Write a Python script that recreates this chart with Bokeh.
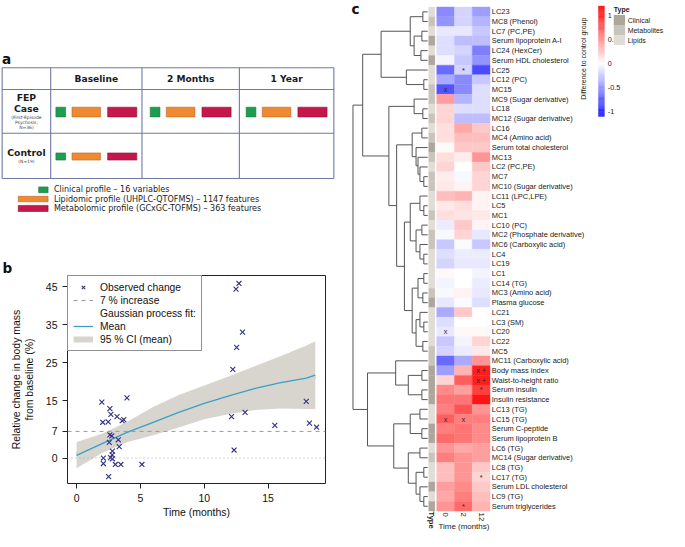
import math
from bokeh.plotting import figure
from bokeh.layouts import row, column
from bokeh.models import Range1d, Legend, LegendItem, ColumnDataSource, Span
from bokeh.transform import linear_cmap, factor_cmap
from bokeh.core.properties import value
from bokeh.embed import file_html
from bokeh.resources import INLINE

S = 0.97
def fs(v):
    return f"{v * S:.2f}px"

# ======================= DATA =======================
# ---- panel a
timepoints = ["Baseline", "2 Months", "1 Year"]
group_titles = [["FEP", "Case"], ["Control"]]
group_notes = [["(First-Episode", "Psychosis;", "N=36)"], ["(N=19)"]]
measured = [[1, 1, 1], [1, 0, 0]]
profile_names = ["Clinical profile", "Lipidomic profile (UHPLC-QTOFMS)", "Metabolomic profile (GCxGC-TOFMS)"]
profile_counts = [16, 1147, 363]
profile_units = ["variables", "features", "features"]
profile_colors = ["#1c9e4e", "#f08a32", "#c6174c"]
profile_edges = ["#15773b", "#b9661e", "#8f0f36"]

# ---- panel b
obs_time = [1.98, 2.05, 2.48, 2.61, 2.69, 3.17, 3.95, 3.57, 3.70, 2.61, 2.76, 2.56, 3.27, 3.34,
            2.81, 2.79, 2.66, 2.81, 2.10, 2.10, 3.04, 3.47, 2.51, 5.12, 12.72, 12.49, 13.0, 12.54,
            12.24, 12.14, 13.2, 12.34, 15.53, 17.99, 18.24, 18.80]
obs_change = [14.7, 9.4, 9.5, 13.0, 11.5, 10.9, 15.8, 9.8, 10.1, 6.1, 5.8, 4.1, 4.8, 3.0,
              1.8, 0.85, 0.1, -0.2, 0.0, -1.45, -1.7, -1.7, -4.9, -1.7, 45.9, 44.4, 33.1, 29.1,
              23.3, 10.9, 12.0, 2.1, 8.6, 14.9, 9.2, 8.1]
fit_time = [0, 2, 4, 6, 8, 10, 12, 14, 16, 18, 18.7]
fit_mean = [0.7, 3.8, 6.8, 9.4, 12.0, 14.4, 16.4, 18.3, 19.8, 21.0, 21.8]
fit_upper = [4.2, 6.4, 9.6, 13.4, 16.6, 19.1, 21.6, 24.2, 26.8, 29.6, 30.7]
fit_lower = [-2.7, 1.3, 4.2, 6.0, 8.0, 10.2, 11.6, 12.6, 13.0, 12.9, 12.9]
threshold = 7
b_xticks = [0, 5, 10, 15]
b_yticks = [0, 7, 15, 25, 35, 45]
b_xlim = (-0.71, 19.5)
b_ylim = (-6.7, 48.0)

# ---- panel c
row_names = ["LC23", "MC8 (Phenol)", "LC7 (PC,PE)", "Serum lipoprotein A-I", "LC24 (HexCer)",
             "Serum HDL cholesterol", "LC25", "LC12 (PC)", "MC15", "MC9 (Sugar derivative)", "LC18",
             "MC12 (Sugar derivative)", "LC16", "MC4 (Amino acid)", "Serum total cholesterol", "MC13",
             "LC2 (PC,PE)", "MC7", "MC10 (Sugar derivative)", "LC11 (LPC,LPE)", "LC5", "MC1",
             "LC10 (PC)", "MC2 (Phosphate derivative)", "MC6 (Carboxylic acid)", "LC4", "LC19", "LC1",
             "LC14 (TG)", "MC3 (Amino acid)", "Plasma glucose", "LC21", "LC3 (SM)", "LC20", "LC22", "MC5",
             "MC11 (Carboxylic acid)", "Body mass index", "Waist-to-height ratio", "Serum insulin",
             "Insulin resistance", "LC13 (TG)", "LC15 (TG)", "Serum C-peptide", "Serum lipoprotein B",
             "LC6 (TG)", "MC14 (Sugar derivative)", "LC8 (TG)", "LC17 (TG)", "Serum LDL cholesterol",
             "LC9 (TG)", "Serum triglycerides"]
type_names = ["Clinical", "Metabolites", "Lipids"]
type_colors = ["#aca69d", "#c9c4bb", "#e0ddd7"]
time_labels = ["0", "2", "12"]
diff_0 = [-0.55, -0.5, -0.1, -0.15, -0.15, -0.05, -0.7, -0.4, -0.8, 0.45, 0.2, 0.2,
          0.15, 0.15, 0.02, 0.15, 0.2, 0.08, 0.1, 0.3, 0.1, 0.15, -0.08, -0.03,
          -0.25, -0.15, -0.2, 0.03, -0.05, -0.03, -0.1, -0.4, -0.15, -0.1, -0.25, -0.2,
          -0.7, -0.45, 0.2, 0.55, 0.65, 0.6, 0.75, 0.6, 0.7, 0.5, 0.6, 0.3, 0.3, 0.45, 0.4, 0.5]
diff_2 = [-0.2, -0.2, -0.1, -0.3, -0.2, -0.25, -0.2, -0.55, -0.55, -0.35, -0.15, -0.3,
          0.4, 0.3, 0.25, 0.08, 0.0, -0.03, 0.05, 0.35, 0.15, 0.12, 0.25, 0.2,
          -0.02, -0.08, -0.1, 0.0, 0.0, 0.06, -0.02, 0.25, 0.0, 0.03, -0.05, -0.08,
          -0.4, 0.35, 0.75, 0.45, 0.65, 0.8, 0.6, 0.65, 0.65, 0.4, 0.5, 0.5, 0.5, 0.55, 0.6, 0.7]
diff_12 = [-0.45, -0.35, -0.25, -0.3, -0.6, -0.5, -0.85, -0.25, -0.15, -0.15, -0.15, -0.3,
           0.25, 0.3, 0.25, 0.5, 0.25, 0.2, 0.2, 0.05, 0.05, 0.1, 0.05, -0.1,
           -0.25, -0.08, -0.1, -0.05, -0.08, -0.1, -0.15, 0.0, 0.0, 0.03, 0.2, 0.1,
           0.5, 1.05, 1.05, 0.9, 1.1, 0.5, 0.6, 0.55, 0.55, 0.45, 0.45, 0.25, 0.2, 0.25, 0.3, 0.35]
sig_row = ["MC15", "LC20", "LC15 (TG)", "LC15 (TG)", "Body mass index", "Waist-to-height ratio",
           "LC25", "Serum insulin", "LC17 (TG)", "Serum triglycerides"]
sig_col = ["0", "0", "0", "2", "12", "12", "2", "12", "12", "2"]
sig_text = ["x", "x", "x", "x", "x +", "x +", "*", "*", "*", "*"]
# dendrogram: (left, right, height)
A1 = ((0, 1, 5), ((2, 3, 6), (4, 5, 7), 14), 18)
A2 = (6, (7, 8, 4), 22)
A = (A1, A2, 48)
B1 = (9, (10, 11, 5), 14)
B2a = ((12, 13, 6), (14, (15, (16, (17, 18, 4), 8), 10), 12), 16)
B2b = ((19, (20, 21, 4), 8), ((22, 23, 6), (24, (25, 26, 4), 8), 12), 18)
B2c = (((27, 28, 4), (29, 30, 5), 10), ((31, (32, 33, 4), 8), (34, 35, 5), 12), 16)
B2 = (B2a, (B2b, B2c, 24), 32)
B = (B1, B2, 40)
X = (A, B, 67)
C1 = (36, ((37, 38, 6), (39, 40, 6), 20), 33)
C2a = ((41, 42, 8), (43, 44, 6), 18)
C2b = ((45, 46, 8), ((47, 48, 4), (49, (50, 51, 4), 8), 12), 20)
C = (C1, (C2a, C2b, 35), 62)
tree = (X, C, 77)
legend_ticks = [1, 0.5, 0, -0.5, -1]

# ======================= PANEL A =======================
pa = figure(width=335, height=233, x_range=Range1d(0, 345), y_range=Range1d(240, 0),
            x_axis_type=None, y_axis_type=None, toolbar_location=None, output_backend="svg",
            min_border=0, outline_line_color=None)
FA = value("DejaVu Sans")
col_edges = [1.7, 51.7, 145.7, 246.0, 343.3]
row_edges = [69.3, 91.7, 136.7, 183.3]
grid_c = "#6d7aa3"
pa.segment(x0=col_edges, y0=[row_edges[0]] * 5, x1=col_edges, y1=[row_edges[-1]] * 5,
           line_color=grid_c, line_width=1.1)
pa.segment(x0=[col_edges[0]] * 4, y0=row_edges, x1=[col_edges[-1]] * 4, y1=row_edges,
           line_color=grid_c, line_width=1.1)
hx = [(col_edges[i + 1] + col_edges[i + 2]) / 2 for i in range(len(timepoints))]
hy = (row_edges[0] + row_edges[1]) / 2
pa.text(x=hx, y=[hy] * 3, text=timepoints, text_font=FA, text_font_style="bold",
        text_font_size=fs(9.4), text_align="center", text_baseline="middle", text_color="#1a1a1a")
lx = (col_edges[0] + col_edges[1]) / 2
title_y = [[100, 111], [156.5]]
note_y = [[120.7, 126, 131.3], [165.7]]
for gi in range(len(group_titles)):
    pa.text(x=[lx] * len(group_titles[gi]), y=title_y[gi], text=group_titles[gi], text_font=FA,
            text_font_style="bold", text_font_size=fs(9.6), text_align="center",
            text_baseline="middle", text_color="#1a1a1a")
    pa.text(x=[lx] * len(group_notes[gi]), y=note_y[gi], text=group_notes[gi], text_font=FA,
            text_font_size=fs(4.6), text_align="center", text_baseline="middle", text_color="#444444")
box_off = [(0, 10), (16.6, 46), (53.3, 83.3)]
box_h = [10, 7.3]
for gi in range(len(measured)):
    yc = (row_edges[gi + 1] + row_edges[gi + 2]) / 2 + 0.7
    for ti in range(len(timepoints)):
        if not measured[gi][ti]:
            continue
        left = hx[ti] - 41.65
        for k in range(3):
            pa.quad(left=left + box_off[k][0], right=left + box_off[k][1],
                    top=yc - box_h[gi] / 2, bottom=yc + box_h[gi] / 2,
                    fill_color=profile_colors[k], line_color=profile_edges[k], line_width=0.6)
leg_y = [195, 204.5, 214.2]
leg_h = [6, 5.6, 6.3]
leg_left = [39.3, 18.3, 18.3]
for k in range(3):
    pa.quad(left=leg_left[k], right=49, top=leg_y[k] - leg_h[k] / 2, bottom=leg_y[k] + leg_h[k] / 2,
            fill_color=profile_colors[k], line_color=profile_edges[k], line_width=0.6)
leg_text = [f"{n} \u2013 {c} {u}" for n, c, u in zip(profile_names, profile_counts, profile_units)]
pa.text(x=[55] * 3, y=leg_y, text=leg_text, text_font=FA, text_font_size=fs(8.3),
        text_align="left", text_baseline="middle", text_color="#222222")
pa.text(x=[1.5], y=[60.5], text=["a"], text_font=FA, text_font_style="bold",
        text_font_size=fs(14), text_align="left", text_baseline="middle", text_color="#111111")

# ======================= PANEL B =======================
FB = "Liberation Sans"
pb = figure(width=335, height=298, x_range=Range1d(*b_xlim), y_range=Range1d(*b_ylim),
            toolbar_location=None, output_backend="svg",
            min_border_left=67, min_border_right=10, min_border_top=42, min_border_bottom=48)
pb.grid.visible = False
pb.outline_line_color = "#222222"
pb.outline_line_width = 1
band_c = "#d8d5cf"
r_cil = pb.line(x=fit_time, y=fit_mean, line_color=band_c, line_width=6)
r_ci = pb.varea(x=fit_time, y1=fit_lower, y2=fit_upper, fill_color=band_c)
pb.add_layout(Span(location=0, dimension="width", line_color="#aaaaaa", line_dash="1 3", line_width=1))
r_thr = pb.line(x=list(b_xlim), y=[threshold, threshold], line_color="#9a9a9a", line_dash="4 4", line_width=1)
r_hdr = pb.line(x=fit_time, y=fit_mean, line_alpha=0)
r_mean = pb.line(x=fit_time, y=fit_mean, line_color="#3a9fc6", line_width=1.3)
r_obs = pb.scatter(x=obs_time, y=obs_change, marker="x", size=7, line_color="#2d3285", line_width=1.1)
legend = Legend(items=[
    LegendItem(label="Observed change", renderers=[r_obs]),
    LegendItem(label="7 % increase", renderers=[r_thr]),
    LegendItem(label="Gaussian process fit:", renderers=[r_hdr]),
    LegendItem(label="Mean", renderers=[r_mean]),
    LegendItem(label="95 % CI (mean)", renderers=[r_cil]),
], location="top_left", border_line_color="#222222", border_line_width=1,
    background_fill_color="white", background_fill_alpha=1,
    label_text_font=FB, label_text_font_size=fs(10.6), label_text_color="#111111",
    glyph_width=20, glyph_height=12, label_height=12, spacing=1, padding=5, margin=0,
    label_standoff=7)
pb.add_layout(legend)
for ax in (pb.xaxis, pb.yaxis):
    ax.axis_line_color = None
    ax.major_tick_line_color = "#222222"
    ax.major_tick_in = 0
    ax.major_tick_out = 5
    ax.minor_tick_line_color = None
    ax.major_label_text_font = FB
    ax.major_label_text_font_size = fs(10.8)
    ax.major_label_text_color = "#111111"
    ax.major_label_standoff = 5
    ax.axis_label_text_font = FB
    ax.axis_label_text_font_size = fs(10.8)
    ax.axis_label_text_font_style = "normal"
    ax.axis_label_text_color = "#111111"
pb.xaxis.ticker = b_xticks
pb.yaxis.ticker = b_yticks
pb.xaxis.axis_label = "Time (months)"
pb.xaxis.axis_label_standoff = 2
pb.yaxis.axis_label = "Relative change in body mass\nfrom baseline (%)"
pb.yaxis.axis_label_standoff = 8
pb.title.text = "b"
pb.title.align = "left"
pb.title.offset = -65
pb.title.standoff = 0
pb.title.text_font = "DejaVu Sans"
pb.title.text_font_style = "bold"
pb.title.text_font_size = fs(14)
pb.title.text_color = "#111111"

# ======================= PANEL C =======================
def cx(xr):
    return (xr - 449.3) / 18.3
def cy(yr):
    return (yr - 11.7) / 9.986

pc = figure(width=330, height=531, x_range=Range1d(cx(345), cx(685)), y_range=Range1d(cy(547), cy(0)),
            x_axis_type=None, y_axis_type=None, toolbar_location=None, output_backend="svg",
            min_border=0, outline_line_color=None)
FC = value("Liberation Sans")

def ramp(n):
    out = []
    for i in range(n):
        t = i / (n - 1)
        if t < 0.5:
            f = t / 0.5
            out.append("#%02x%02x%02x" % (int(255 * f), int(255 * f), 255))
        else:
            f = (t - 0.5) / 0.5
            out.append("#%02x%02x%02x" % (255, int(255 * (1 - f)), int(255 * (1 - f))))
    return out
palette = ramp(255)
LOW, HIGH = -1.2, 1.2

nrow = len(row_names)
hx_, hy_, hv_ = [], [], []
for ci, vals in enumerate([diff_0, diff_2, diff_12]):
    for ri in range(nrow):
        hx_.append(ci + 0.5)
        hy_.append(ri)
        hv_.append(vals[ri])
hsrc = ColumnDataSource(dict(x=hx_, y=hy_, v=hv_))
cmap = linear_cmap("v", palette, LOW, HIGH)
pc.rect(x="x", y="y", width=1, height=1, source=hsrc, fill_color=cmap, line_color=cmap, line_width=0.4)

row_types = ["Lipids" if n.startswith("LC") else ("Metabolites" if n.startswith("MC") else "Clinical")
             for n in row_names]
tsrc = ColumnDataSource(dict(x=[cx(444.2)] * nrow, y=list(range(nrow)), t=row_types))
tmap = factor_cmap("t", type_colors, type_names)
pc.rect(x="x", y="y", width=(447.4 - 441) / 18.3, height=1, source=tsrc, fill_color=tmap,
        line_color=tmap, line_width=0.3)

col_index = {lab: i for i, lab in enumerate(time_labels)}
row_index = {n: i for i, n in enumerate(row_names)}
pc.text(x=[col_index[c] + 0.5 for c in sig_col], y=[row_index[r] for r in sig_row], text=sig_text,
        text_font=FC, text_font_size=fs(7.5), text_align="center", text_baseline="middle",
        text_color="#2a2a2a")

pc.text(x=[cx(506)] * nrow, y=list(range(nrow)), text=row_names, text_font=FC,
        text_font_size=fs(7.7), text_align="left", text_baseline="middle", text_color="#1a1a1a")
pc.text(x=[i + 0.5 for i in range(len(time_labels))], y=[cy(527.5)] * 3, text=time_labels, text_font=FC,
        text_font_size=fs(8), text_align="left", text_baseline="middle", text_color="#1a1a1a",
        angle=-math.pi / 2)
pc.text(x=[cx(444.2)], y=[cy(526.5)], text=["Type"], text_font=FC, text_font_style="bold",
        text_font_size=fs(7.8), text_align="left", text_baseline="middle", text_color="#1a1a1a",
        angle=-math.pi / 2)
pc.text(x=[cx(477.3)], y=[cy(541.5)], text=["Time (months)"], text_font=FC, text_font_size=fs(8.2),
        text_align="center", text_baseline="middle", text_color="#1a1a1a")

xs0, ys0, xs1, ys1 = [], [], [], []
def hx_of(h):
    return cx(440 - h)
def walk(node):
    if isinstance(node, int):
        return float(node), 0.0
    l, r, h = node
    yl, hl = walk(l)
    yr, hr = walk(r)
    xs0.extend([hx_of(h), hx_of(hl), hx_of(hr)])
    xs1.extend([hx_of(h), hx_of(h), hx_of(h)])
    ys0.extend([yl, yl, yr])
    ys1.extend([yr, yl, yr])
    return (yl + yr) / 2, h
walk(tree)
pc.segment(x0=xs0, y0=ys0, x1=xs1, y1=ys1, line_color="#555555", line_width=1)

def vy(v):
    return cy(65 - v * 49.5)
nb = 120
vals = [-1.1 + (1.2 + 1.1) * (i + 0.5) / nb for i in range(nb)]
step = (1.2 + 1.1) / nb
csrc = ColumnDataSource(dict(v=vals, top=[vy(v + step / 2) for v in vals],
                             bottom=[vy(v - step / 2) for v in vals]))
pc.quad(left=cx(616), right=cx(622), top="top", bottom="bottom", source=csrc,
        fill_color=cmap, line_color=cmap, line_width=0.3)
pc.text(x=[cx(625.5)] * len(legend_ticks), y=[vy(v) for v in legend_ticks],
        text=[("%g" % v) for v in legend_ticks], text_font=FC, text_font_size=fs(7.5),
        text_align="left", text_baseline="middle", text_color="#1a1a1a")
pc.text(x=[cx(600)], y=[cy(60)], text=["Difference to control group"], text_font=FC,
        text_font_size=fs(7.2), text_align="center", text_baseline="middle", text_color="#1a1a1a",
        angle=math.pi / 2)
ty_top = [15, 25.3, 35.6]
pc.quad(left=[cx(631.7)] * 3, right=[cx(643.3)] * 3, top=[cy(t) for t in ty_top],
        bottom=[cy(t + 10.3) for t in ty_top], fill_color=type_colors, line_color=None)
pc.text(x=[cx(646)] * 3, y=[cy(t + 5.1) for t in ty_top], text=type_names, text_font=FC,
        text_font_size=fs(7.2), text_align="left", text_baseline="middle", text_color="#1a1a1a")
pc.text(x=[cx(631.7)], y=[cy(9.5)], text=["Type"], text_font=FC, text_font_style="bold",
        text_font_size=fs(7.2), text_align="left", text_baseline="middle", text_color="#1a1a1a")
pc.text(x=[cx(361.5)], y=[cy(8.3)], text=["c"], text_font=value("DejaVu Sans"), text_font_style="bold",
        text_font_size=fs(14), text_align="left", text_baseline="middle", text_color="#111111")

layout = row(column(row(pa), row(pb)), pc)
open("out.html", "w").write(file_html(layout, INLINE))
